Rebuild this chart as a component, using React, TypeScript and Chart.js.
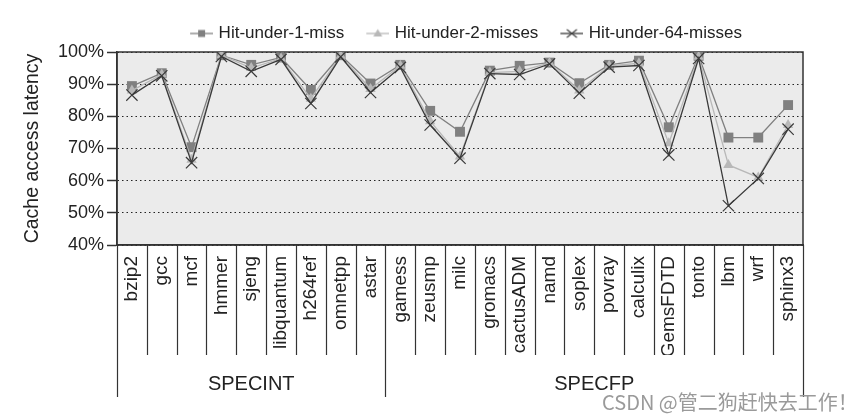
import React, { useEffect, useRef } from 'react';
import { Chart, registerables } from 'chart.js';

Chart.register(...registerables);

const categories = [
  'bzip2', 'gcc', 'mcf', 'hmmer', 'sjeng', 'libquantum', 'h264ref', 'omnetpp', 'astar',
  'gamess', 'zeusmp', 'milc', 'gromacs', 'cactusADM', 'namd', 'soplex', 'povray',
  'calculix', 'GemsFDTD', 'tonto', 'lbm', 'wrf', 'sphinx3',
];
const groupNames = ['SPECINT', 'SPECFP'];
const groupSizes = [9, 14];

const hitUnder1Miss = [89.4, 93.4, 70.4, 99, 96, 98.3, 88.2, 99, 90.2, 96, 81.7, 75.2, 94.2, 95.7, 96.7, 90.3, 96, 97.3, 76.6, 98.8, 73.4, 73.4, 83.5];
const hitUnder2Misses = [88, 93, 66.5, 99, 95, 98, 85.5, 98.8, 88.5, 95.7, 78.5, 67.5, 93.6, 94, 96.6, 88, 95.7, 96.5, 71.6, 98.5, 64.9, 61, 77.3];
const hitUnder64Misses = [86.6, 92.6, 65.6, 98.6, 94, 97.7, 84, 98.5, 87.4, 95.2, 77.3, 67, 93.3, 93, 96.3, 87.2, 95.3, 95.8, 68, 98, 52.2, 60.7, 76];

const seriesNames = ['Hit-under-1-miss', 'Hit-under-2-misses', 'Hit-under-64-misses'];
const yMin = 40;
const yMax = 100;
const yStep = 10;
const yTitle = 'Cache access latency';
const watermark = 'CSDN @管二狗赶快去工作！';

const FONT = "'Liberation Sans', Arial, Helvetica, sans-serif";
const C1 = '#808080';
const C2 = '#b8b8b8';
const C64 = '#3a3a3a';

function makeIcon(kind: string, color: string): HTMLCanvasElement {
  const c = document.createElement('canvas');
  c.width = 38;
  c.height = 14;
  const ctx = c.getContext('2d')!;
  ctx.strokeStyle = color;
  ctx.fillStyle = color;
  ctx.lineWidth = 1.3;
  ctx.beginPath();
  ctx.moveTo(15, 7);
  ctx.lineTo(38, 7);
  ctx.stroke();
  const cx = 26.5, cy = 7;
  if (kind === 'rect') {
    ctx.fillRect(cx - 3.5, cy - 3.5, 7, 7);
  } else if (kind === 'tri') {
    ctx.beginPath();
    ctx.moveTo(cx, cy - 4.5);
    ctx.lineTo(cx + 4.5, cy + 3);
    ctx.lineTo(cx - 4.5, cy + 3);
    ctx.closePath();
    ctx.fill();
  } else {
    ctx.lineWidth = 1.1;
    ctx.beginPath();
    ctx.moveTo(cx - 5, cy - 4);
    ctx.lineTo(cx + 5, cy + 4);
    ctx.moveTo(cx + 5, cy - 4);
    ctx.lineTo(cx - 5, cy + 4);
    ctx.stroke();
  }
  return c;
}

const decorPlugin = {
  id: 'decor',
  beforeDraw(chart: any) {
    const { ctx, chartArea } = chart;
    ctx.save();
    ctx.fillStyle = '#ebebeb';
    ctx.fillRect(chartArea.left, chartArea.top, chartArea.right - chartArea.left, chartArea.bottom - chartArea.top);
    ctx.restore();
  },
  beforeDatasetsDraw(chart: any) {
    const { ctx, chartArea } = chart;
    ctx.save();
    ctx.strokeStyle = '#333';
    ctx.lineWidth = 1.5;
    ctx.strokeRect(chartArea.left, chartArea.top, chartArea.right - chartArea.left, chartArea.bottom - chartArea.top);
    ctx.restore();
  },
  afterDraw(chart: any) {
    const { ctx, chartArea } = chart;
    const x = chart.scales.x;
    const n = categories.length;
    const bounds: number[] = [];
    for (let i = 0; i <= n; i++) {
      if (i === 0) bounds.push(chartArea.left);
      else if (i === n) bounds.push(chartArea.right);
      else bounds.push((x.getPixelForValue(i - 1) + x.getPixelForValue(i)) / 2);
    }
    const groupEdges = [0];
    groupSizes.forEach((s) => groupEdges.push(groupEdges[groupEdges.length - 1] + s));
    const yTop = chartArea.bottom;
    const yMid = x.bottom;
    const yEnd = x.bottom + 42;
    ctx.save();
    ctx.strokeStyle = '#333';
    ctx.lineWidth = 1.2;
    for (let i = 0; i <= n; i++) {
      const isGroup = groupEdges.includes(i);
      const px = Math.round(bounds[i]) + 0.5;
      ctx.beginPath();
      ctx.moveTo(px, yTop);
      ctx.lineTo(px, isGroup ? yEnd : yMid);
      ctx.stroke();
    }
    ctx.fillStyle = '#222';
    ctx.font = `20px ${FONT}`;
    ctx.textAlign = 'center';
    ctx.textBaseline = 'middle';
    for (let g = 0; g < groupNames.length; g++) {
      const cx = (bounds[groupEdges[g]] + bounds[groupEdges[g + 1]]) / 2;
      ctx.fillText(groupNames[g], cx, x.bottom + 29);
    }
    ctx.fillStyle = '#9a9a9a';
    ctx.font = "20px 'Noto Sans CJK SC', sans-serif";
    ctx.textAlign = 'left';
    ctx.fillText(watermark, 602, 402);
    ctx.restore();
  },
};

export default function App() {
  const ref = useRef<HTMLCanvasElement | null>(null);
  useEffect(() => {
    if (!ref.current) return;
    const icons = [makeIcon('rect', C1), makeIcon('tri', C2), makeIcon('cross', C64)];
    const chart = new Chart(ref.current, {
      type: 'line',
      data: {
        labels: categories,
        datasets: [
          {
            label: seriesNames[0], data: hitUnder1Miss, borderColor: C1, backgroundColor: C1,
            borderWidth: 1.3, pointStyle: 'rect', pointRadius: 7, pointBorderWidth: 0, order: 2,
          },
          {
            label: seriesNames[1], data: hitUnder2Misses, borderColor: C2, backgroundColor: C2,
            borderWidth: 1.3, pointStyle: 'triangle', pointRadius: 6, pointBorderWidth: 0, order: 1,
          },
          {
            label: seriesNames[2], data: hitUnder64Misses, borderColor: C64, backgroundColor: C64,
            borderWidth: 1.3, pointStyle: 'crossRot', pointRadius: 8, pointBorderWidth: 1.2, order: 0,
          },
        ],
      },
      options: {
        responsive: false,
        animation: false,
        events: [],
        layout: { padding: { left: 20, right: 57, top: 15, bottom: 64 } },
        plugins: {
          tooltip: { enabled: false },
          legend: {
            position: 'top',
            fullSize: false,
            labels: {
              usePointStyle: true,
              pointStyleWidth: 32,
              padding: 10,
              color: '#222',
              font: { size: 17, family: FONT },
              generateLabels: () =>
                seriesNames.map((name, i) => ({
                  text: name,
                  pointStyle: icons[i] as any,
                  fillStyle: 'transparent',
                  strokeStyle: 'transparent',
                  lineWidth: 0,
                  hidden: false,
                  datasetIndex: i,
                  fontColor: '#222',
                })),
            },
          },
        },
        scales: {
          x: {
            type: 'category',
            offset: true,
            grid: { display: false },
            border: { display: true, color: '#333', width: 1.5 },
            ticks: {
              autoSkip: false,
              minRotation: 90,
              maxRotation: 90,
              padding: 3,
              color: '#222',
              font: { size: 19, family: FONT },
            },
            afterFit: (s: any) => { s.height = 110; },
          },
          y: {
            min: yMin,
            max: yMax,
            grid: {
              color: '#222',
              lineWidth: 1,
              drawTicks: true,
              tickLength: 10,
              tickColor: '#333',
              tickWidth: 1.5,
              tickBorderDash: [],
            },
            border: { display: true, color: '#333', width: 1.5, dash: [1.5, 3] },
            ticks: {
              stepSize: yStep,
              padding: 3,
              color: '#222',
              font: { size: 18, family: FONT },
              callback: (v: any) => `${v}%`,
            },
            title: {
              display: true,
              text: yTitle,
              color: '#222',
              font: { size: 19.5, family: FONT },
              padding: { top: 1, bottom: 0 },
            },
            afterFit: (s: any) => { s.width = 97; },
          },
        },
      },
      plugins: [decorPlugin],
    });
    return () => chart.destroy();
  }, []);
  return (
    <div style={{ position: 'absolute', left: 0, top: 0, width: 860, height: 419 }}>
      <canvas ref={ref} width={860} height={419} style={{ display: 'block' }} />
    </div>
  );
}
